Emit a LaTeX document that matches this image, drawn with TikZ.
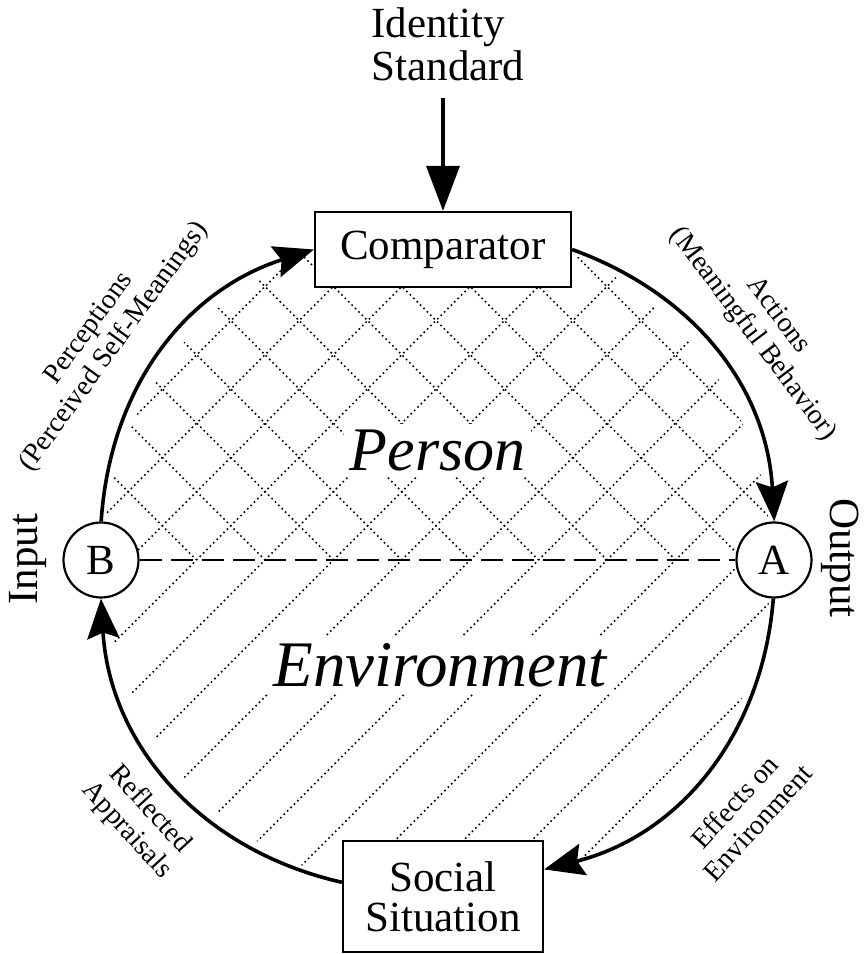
\documentclass[tikz,border=0pt]{standalone}
\usepackage{fontspec}
\setmainfont{Liberation Serif}
\usetikzlibrary{arrows.meta}

\begin{document}
\begin{tikzpicture}[x=1pt, y=1pt,
            every node/.style={font=\fontsize{43}{42}\selectfont},
            blockbox/.style={draw, line width=2.2pt, fill=white, inner sep=0pt},
            junction/.style={circle, draw, line width=2.2pt, fill=white, minimum size=75pt, inner sep=0pt},
            arclabel/.style={font=\fontsize{28}{31}\selectfont, align=center},
            region/.style={fill=white, inner sep=6pt},
            hatch/.style={line width=1.6pt, dash pattern=on 1.6pt off 3.2pt},
            divide/.style={line width=1.3pt, dash pattern=on 22pt off 9pt},
            flow/.style={line width=3.6pt, -{Stealth[length=40pt,width=32pt,inset=6pt]}},
            feed/.style={line width=3.6pt, -{Triangle[length=45pt,width=33pt]}}]
            \useasboundingbox (0,0) rectangle (863,954);
            \coordinate (O) at (437.5,394);
            \begin{scope}
                \clip (O) circle (334);
                \foreach \k in {-5,...,9}
                    \draw[hatch] ({-129+68.4*\k},0) -- ++(863,863);
                \clip (0,394) rectangle (863,954);
                \foreach \k in {-5,...,9}
                    \draw[hatch] ({659+68.4*\k},0) -- ++(-863,863);
            \end{scope}
            \node[junction] (B) at (101,394) {B};
            \node[junction] (A) at (774,394) {A};
            \node[blockbox, minimum width=256pt, minimum height=75pt] (cmp) at (443,704.5) {Comparator};
            \node[blockbox, minimum width=200pt, minimum height=111pt, align=center,
                  font=\fontsize{43}{40}\selectfont] (soc) at (443,57.5) {Social\\Situation};
            \node[align=left, inner ysep=17pt, font=\fontsize{43}{43}\selectfont] (ids) at (448,910) {Identity\\Standard};
            \node[region, font=\itshape\fontsize{62}{62}\selectfont] (person) at (437.5,503.5) {Person};
            \node[region, font=\itshape\fontsize{65}{65}\selectfont] (env) at (440,289) {Environment};
            \node[rotate=90] (inp) at (28,395) {Input};
            \node[rotate=-90] (outp) at (840,396) {Output};
            \node[arclabel, rotate=54] (perc) at (102,616) {Perceptions\\(Perceived Self-Meanings)};
            \node[arclabel, rotate=-53] (act) at (765,629) {Actions\\(Meaningful Behavior)};
            \node[arclabel, rotate=-47.5] (refl) at (138,134) {Reflected\\Appraisals};
            \node[arclabel, rotate=47.7] (eff) at (746,142) {Effects on\\Environment};
            \draw[divide] (B) -- (A);
            \draw[feed] (ids.south -| cmp.north) -- (cmp.north);
            \draw[flow] (B) to[bend left=34.2] (cmp.west);
            \draw[flow] (cmp.east) to[bend left=33.4] (A);
            \draw[flow] (A) to[bend left=35.6] (soc.15);
            \draw[flow] (soc.172) to[bend left=36.85] (B);
\end{tikzpicture}
\end{document}
